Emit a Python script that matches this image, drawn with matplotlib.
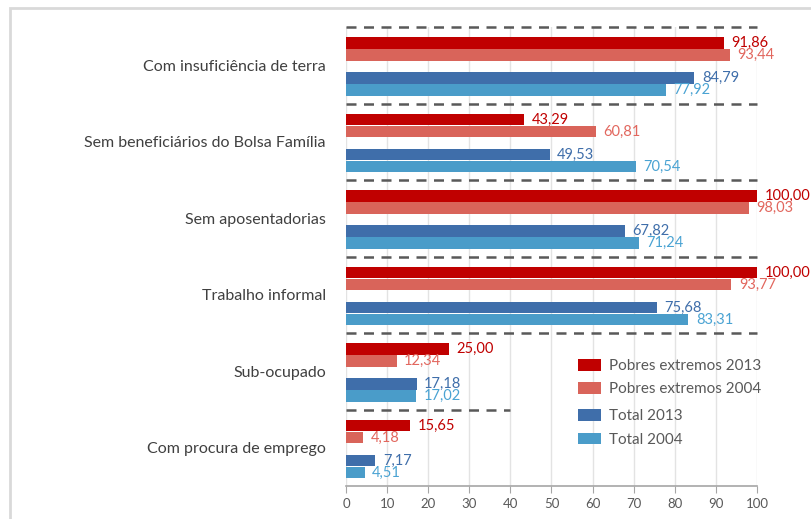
import matplotlib.pyplot as plt
from matplotlib.patches import Rectangle

plt.rcParams['font.family'] = ['Lato', 'DejaVu Sans']

# data
categorias = ["Com insuficiência de terra", "Sem beneficiários do Bolsa Família",
              "Sem aposentadorias", "Trabalho informal", "Sub-ocupado",
              "Com procura de emprego"]
pobres_2013 = [91.86, 43.29, 100.00, 100.00, 25.00, 15.65]
pobres_2004 = [93.44, 60.81, 98.03, 93.77, 12.34, 4.18]
total_2013 = [84.79, 49.53, 67.82, 75.68, 17.18, 7.17]
total_2004 = [77.92, 70.54, 71.24, 83.31, 17.02, 4.51]
ticks = list(range(0, 101, 10))

series = [
    ("Pobres extremos 2013", pobres_2013, "#C00000", "#C00000", 0.209),
    ("Pobres extremos 2004", pobres_2004, "#D9645A", "#E2675E", 0.366),
    ("Total 2013", total_2013, "#3F6EAA", "#3F6EAA", 0.667),
    ("Total 2004", total_2004, "#4A9CC9", "#4AA3D3", 0.824),
]

fig = plt.figure(figsize=(8.11, 5.19), dpi=100)
# outer light frame (clipped on right/bottom like the screenshot)
fig.patches.append(Rectangle((10/811, -0.1), 1.1, 1 - 8/519 + 0.1, transform=fig.transFigure,
                             fill=False, edgecolor="#D9D9D9", linewidth=2))

ax = fig.add_axes([346/811, 33/519, 411/811, 459/519])

handles = []
for name, vals, col, tcol, off in series:
    ys = [i + off for i in range(len(categorias))]
    b = ax.barh(ys, vals, height=0.155, color=col, label=name, zorder=3)
    handles.append(b)
    for y, v in zip(ys, vals):
        ax.text(v + 1.8, y, f"{v:.2f}".replace(".", ","), color=tcol,
                fontsize=10.5, va="center", ha="left", clip_on=False)

# dashed separators
for i in range(len(categorias)):
    xmax = 40 if i == len(categorias) - 1 else 100
    ax.plot([0, xmax], [i, i], color="#595959", linestyle=(0, (4, 3)), linewidth=1.8,
            zorder=4, clip_on=False)

ax.set_xlim(0, 100)
ax.set_ylim(len(categorias), 0)
ax.set_xticks(ticks)
ax.set_xticklabels([str(t) for t in ticks])
ax.set_yticks([i + 0.5 for i in range(len(categorias))])
ax.set_yticklabels(categorias)
ax.tick_params(axis="y", length=0, pad=14.5, labelsize=11.5, labelcolor="#404040")
ax.tick_params(axis="x", length=5, color="#A6A6A6", labelsize=9.5, labelcolor="#595959", pad=4)
ax.grid(axis="x", color="#E3E3E3", linewidth=1, zorder=0)
for s in ["left", "right", "top"]:
    ax.spines[s].set_visible(False)
ax.spines["bottom"].set_color("#A6A6A6")
ax.spines["bottom"].set_linewidth(1.2)

leg_kw = dict(loc="upper left", frameon=False, fontsize=11, labelcolor="#595959",
              handlelength=1.5, handleheight=0.8, labelspacing=0.6,
              handletextpad=0.55, borderaxespad=0, borderpad=0)
leg1 = ax.legend(handles[:2], [s[0] for s in series[:2]],
                 bbox_to_anchor=(0.564, 0.277), **leg_kw)
ax.add_artist(leg1)
ax.legend(handles[2:], [s[0] for s in series[2:]],
          bbox_to_anchor=(0.564, 0.167), **leg_kw)

plt.savefig("out.png", dpi=100)
